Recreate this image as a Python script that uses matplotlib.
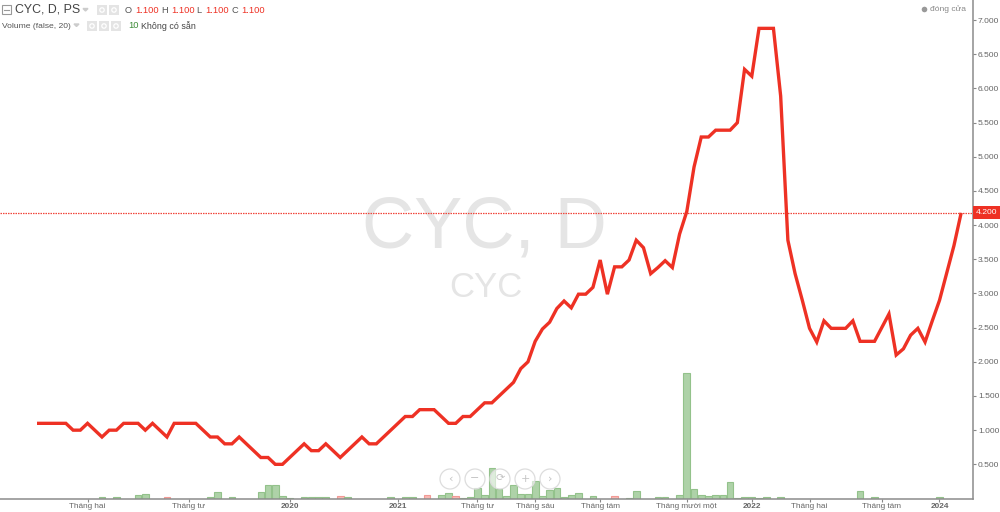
import matplotlib
matplotlib.use('Agg')
import matplotlib.pyplot as plt
from matplotlib.patches import Circle, Rectangle, Polygon

plt.rcParams['font.family'] = ['Liberation Sans', 'DejaVu Sans']

# gia dong cua theo tung phien
close_prices = [
    1.1, 1.1, 1.1, 1.1, 1.1, 1.0, 1.0, 1.1, 1.0, 0.9, 1.0, 1.0, 1.1, 1.1, 1.1, 1.0,
    1.1, 1.0, 0.9, 1.1, 1.1, 1.1, 1.1, 1.0, 0.9, 0.9, 0.8, 0.8, 0.9, 0.8, 0.7, 0.6,
    0.6, 0.5, 0.5, 0.6, 0.7, 0.8, 0.7, 0.7, 0.8, 0.7, 0.6, 0.7, 0.8, 0.9, 0.8, 0.8,
    0.9, 1.0, 1.1, 1.2, 1.2, 1.3, 1.3, 1.3, 1.2, 1.1, 1.1, 1.2, 1.2, 1.3, 1.4, 1.4,
    1.5, 1.6, 1.7, 1.9, 2.0, 2.3, 2.48, 2.58, 2.78, 2.89, 2.79, 2.99, 2.99, 3.09, 3.49, 2.99,
    3.39, 3.39, 3.49, 3.78, 3.67, 3.29, 3.38, 3.48, 3.38, 3.87, 4.2, 4.85, 5.29, 5.29, 5.39, 5.39,
    5.39, 5.5, 6.28, 6.18, 6.88, 6.88, 6.88, 5.89, 3.78, 3.29, 2.9, 2.49, 2.29, 2.6, 2.49, 2.49,
    2.49, 2.6, 2.3, 2.3, 2.3, 2.5, 2.7, 2.1, 2.19, 2.39, 2.49, 2.29, 2.6, 2.9, 3.3, 3.7, 4.18,
]

# khoi luong: chi so phien -> do cao doc theo thang gia
volume_idx = [
    9, 11, 14, 15, 18, 24, 25, 27, 31, 32, 33, 34, 35, 37, 38, 39, 40, 42, 43, 49, 51, 52, 54,
    56, 57, 58, 59, 60, 61, 62, 63, 64, 65, 66, 67, 68, 69, 70, 71, 72, 73, 74, 75, 77, 80, 82,
    83, 86, 87, 89, 90, 91, 92, 93, 94, 95, 96, 97, 98, 99, 100, 101, 103, 114, 116, 125,
]
volume_val = [
    0.02, 0.02, 0.05, 0.065, 0.02, 0.015, 0.09, 0.02, 0.09, 0.195, 0.195, 0.04, 0.01, 0.015,
    0.025, 0.015, 0.015, 0.03, 0.015, 0.025, 0.015, 0.02, 0.055, 0.05, 0.075, 0.03, 0.01, 0.025,
    0.15, 0.055, 0.44, 0.14, 0.03, 0.195, 0.07, 0.07, 0.25, 0.04, 0.12, 0.16, 0.02, 0.055, 0.08,
    0.035, 0.03, 0.01, 0.105, 0.025, 0.015, 0.055, 1.84, 0.135, 0.05, 0.03, 0.055, 0.055, 0.24,
    0.01, 0.02, 0.02, 0.01, 0.02, 0.015, 0.105, 0.015, 0.025,
]
volume_down = [18, 42, 54, 58, 80]

x_tick_pos = [7, 21, 35, 50, 61, 69, 78, 90, 99, 107, 117, 125]
x_tick_labels = ['Tháng hai', 'Tháng tư', '2020', '2021', 'Tháng tư', 'Tháng sáu', 'Tháng tám',
                 'Tháng mười một', '2022', 'Tháng hai', 'Tháng tám', '2024']
year_labels = ['2020', '2021', '2022', '2024']
y_ticks = [0.5, 1.0, 1.5, 2.0, 2.5, 3.0, 3.5, 4.0, 4.5, 5.0, 5.5, 6.0, 6.5, 7.0]
last_price = 4.18

RED = '#ee3124'
GRAY = '#666666'

fig = plt.figure(figsize=(10, 5.12), dpi=100)
ax = fig.add_axes([0, 13.5 / 512, 0.973, 498.5 / 512])

# bieu do chinh
ax.text(0.4975, 0.5405, 'CYC, D', transform=ax.transAxes, ha='center', va='center',
        fontsize=52, color='#e5e5e5', zorder=0)
ax.text(0.4995, 0.4235, 'CYC', transform=ax.transAxes, ha='center', va='center',
        fontsize=25, color='#e5e5e5', zorder=0)

bar_colors = ['#f9b9b5' if i in volume_down else '#aed2a8' for i in volume_idx]
edge_colors = ['#f29a95' if i in volume_down else '#93c28b' for i in volume_idx]
ax.bar(volume_idx, volume_val, width=0.92, color=bar_colors, edgecolor=edge_colors,
       linewidth=0.8, zorder=2)
ax.axhline(last_price, color='#f0443a', lw=0.9, ls=(0, (1.2, 0.8)), zorder=3)
ax.plot(range(len(close_prices)), close_prices, color=RED, lw=2.4, zorder=4,
        solid_joinstyle='miter', solid_capstyle='butt')

ax.set_xlim(-5.125, 129.64)
ax.set_ylim(0, 7.295)
ax.yaxis.tick_right()
ax.set_yticks(y_ticks)
ax.set_yticklabels([f'{v:.3f}' for v in y_ticks])
ax.set_xticks(x_tick_pos)
ax.set_xticklabels(x_tick_labels)
ax.tick_params(axis='y', length=2, width=0.8, color='#888888', labelsize=6.1, labelcolor=GRAY, pad=1.5)
ax.tick_params(axis='x', length=2, width=0.8, color='#888888', labelsize=5.9, labelcolor=GRAY, pad=1)
for lab in ax.get_xticklabels():
    if lab.get_text() in year_labels:
        lab.set_fontweight('bold')
for name in ['top', 'left']:
    ax.spines[name].set_visible(False)
for name in ['right', 'bottom']:
    ax.spines[name].set_color('#8c8c8c')
    ax.spines[name].set_linewidth(1.1)

# lop phu tinh theo pixel: tieu de, nut bam, nhan gia
ov = fig.add_axes([0, 0, 1, 1], facecolor='none')
ov.set_xlim(0, 1000)
ov.set_ylim(512, 0)
ov.axis('off')

ov.add_patch(Rectangle((2, 5), 9, 9, fill=False, ec='#999999', lw=0.8))
ov.plot([4, 9], [9.5, 9.5], color='#999999', lw=0.8)
ov.text(15, 10, 'CYC, D, PS', fontsize=8.9, color='#444444', va='center')
ov.text(2, 26, 'Volume (false, 20)', fontsize=6.1, color='#555555', va='center')
ov.add_patch(Polygon([[83, 8.5], [88, 8.5], [85.5, 11]], color='#cccccc'))
ov.add_patch(Polygon([[74, 24], [79, 24], [76.5, 26.5]], color='#cccccc'))
for bx, by in [(97, 5), (109, 5), (87, 21), (99, 21), (111, 21)]:
    ov.add_patch(Rectangle((bx, by), 10, 10, color='#e4e4e4', lw=0))
    ov.add_patch(Circle((bx + 5, by + 5), 2.2, fill=False, ec='white', lw=0.9))

for lx, vx, name in [(125, 135, 'O'), (161, 171, 'H'), (196, 205, 'L'), (231, 241, 'C')]:
    ov.text(lx, 10.5, name, fontsize=6.7, color='#555555', va='center')
    ov.text(vx, 10.5, '1.100', fontsize=6.7, color=RED, va='center')
ov.text(128, 26, '10', fontsize=6.7, color='#3d8b37', va='center')
ov.text(141, 26, 'Không có sẫn', fontsize=6.4, color='#444444', va='center')

ov.add_patch(Circle((924.5, 9.5), 2.8, color='#999999', lw=0))
ov.text(930, 9.5, 'đóng cửa', fontsize=6.1, color='#888888', va='center')

ov.add_patch(Rectangle((972.5, 206), 27.5, 13, color=RED, lw=0))
ov.text(986.5, 212.7, '4.200', fontsize=6.1, color='white', ha='center', va='center')

# nut dieu huong
for cx, sym in zip([450, 475, 500, 525, 550], ['‹', '−', '⟳', '+', '›']):
    ov.add_patch(Circle((cx, 479), 10, fc=(1, 1, 1, 0.6), ec='#dddddd', lw=0.9, zorder=5))
    ov.text(cx, 478.5, sym, fontsize=8, color='#c4c4c4', ha='center', va='center', zorder=6,
            family=['DejaVu Sans'])

fig.savefig('out.png', dpi=100)
